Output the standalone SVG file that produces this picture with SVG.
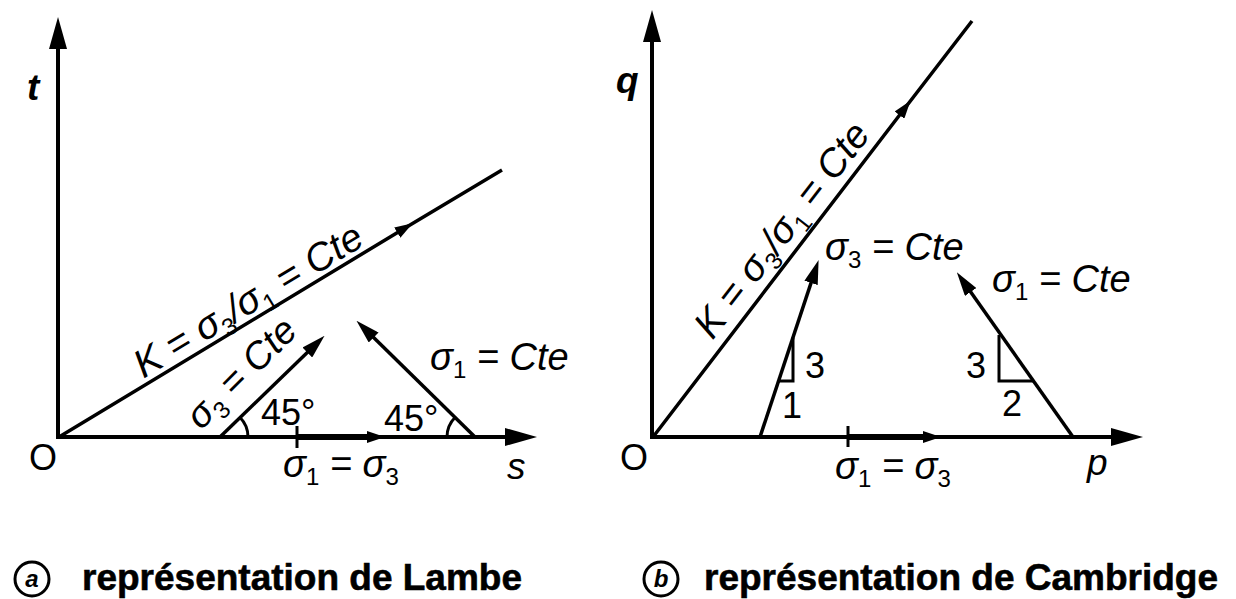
<svg xmlns="http://www.w3.org/2000/svg" width="1236" height="599" viewBox="0 0 1236 599">
<style>
.ax{stroke:#000;stroke-width:4;fill:none}
.ln{stroke:#000;stroke-width:3.5;fill:none}
.thin{stroke:#000;stroke-width:3;fill:none}
.thick{stroke:#000;stroke-width:6;fill:none}
text{font-family:"Liberation Sans",Arial,sans-serif;fill:#000}
.lb{font-size:38px;font-style:italic}
.kl{font-size:39px;font-style:italic}
.num{font-size:36px}
.var{font-size:37px;font-style:italic}
.org{font-size:36px}
.sub{font-size:24px;font-style:normal}
.cap{font-size:37px;font-weight:bold;stroke:#000;stroke-width:0.6}
.circ{stroke:#000;stroke-width:3;fill:none}
.cl{font-size:24px;font-weight:bold;font-style:italic}
</style>
<defs>
<marker id="axh" markerUnits="userSpaceOnUse" viewBox="0 0 32 18" markerWidth="32" markerHeight="18" refX="12" refY="9" orient="auto"><path d="M0,0 L32,9 L0,18 Z"/></marker>
<marker id="sh" markerUnits="userSpaceOnUse" viewBox="0 0 24 14" markerWidth="24" markerHeight="14" refX="10" refY="7" orient="auto"><path d="M0,0 L24,7 L0,14 Z"/></marker>
<marker id="mh" markerUnits="userSpaceOnUse" viewBox="0 0 18 12" markerWidth="18" markerHeight="12" refX="9" refY="6" orient="auto"><path d="M0,0 L18,6 L0,12 Z"/></marker>
</defs>

<g id="connectors">
<!-- panel a -->
<path class="ax" d="M58,439 L58,37" marker-end="url(#axh)"/>
<path class="ax" d="M56,437 L517,437" marker-end="url(#axh)"/>
<path class="ln" d="M59,437 L405,228 L502,170" marker-mid="url(#mh)"/>
<path class="ln" d="M220,437 L314.5,345.5" marker-end="url(#sh)"/>
<path class="ln" d="M475,437 L366.5,330.5" marker-end="url(#sh)"/>
<path class="thin" d="M248,437 A28,28 0 0 0 239.8,417.2"/>
<path class="thin" d="M447,437 A28,28 0 0 1 455.2,417.2"/>
<path class="thin" d="M297,426 L297,448"/>
<path class="thick" d="M297,437 L376,437" marker-end="url(#mh)"/>
<!-- panel b -->
<path class="ax" d="M652,439 L652,30" marker-end="url(#axh)"/>
<path class="ax" d="M650,437 L1123,437" marker-end="url(#axh)"/>
<path class="ln" d="M653,437 L905,108 L972,21" marker-mid="url(#mh)"/>
<path class="ln" d="M760,437 L814.2,273.4" marker-end="url(#sh)"/>
<path class="thin" d="M778.7,381 L793,381 L793,337.4"/>
<path class="ln" d="M1073,437 L964.9,283.8" marker-end="url(#sh)"/>
<path class="thin" d="M1033.5,381 L999,381 L999,334.9"/>
<path class="thin" d="M848,426 L848,447"/>
<path class="thick" d="M848,437 L932,437" marker-end="url(#mh)"/>
</g>

<g id="panel-a-labels">
<text class="var" x="27" y="100" font-weight="bold">t</text>
<text class="org" x="29" y="470">O</text>
<text class="var" x="507" y="479">s</text>
<text class="kl" transform="translate(146,383) rotate(-31.1)" x="0" y="-5">K = σ<tspan class="sub" dy="8">3</tspan><tspan dy="-8">/σ</tspan><tspan class="sub" dy="8">1</tspan><tspan dy="-8"> = Cte</tspan></text>
<text class="lb" font-size="36" transform="translate(201,431) rotate(-45)" x="0" y="0">σ<tspan class="sub" dy="8">3</tspan><tspan dy="-8"> = Cte</tspan></text>
<text class="num" x="261" y="425">45°</text>
<text class="num" x="384" y="431">45°</text>
<text class="lb" x="430" y="370">σ<tspan class="sub" dy="8">1</tspan><tspan dy="-8"> = Cte</tspan></text>
<text class="lb" x="283" y="477">σ<tspan class="sub" dy="8">1</tspan><tspan dy="-8"> = σ</tspan><tspan class="sub" dy="8">3</tspan></text>
</g>

<g id="panel-b-labels">
<text class="var" x="616" y="93" font-weight="bold">q</text>
<text class="org" x="620" y="470">O</text>
<text class="var" x="1087" y="475">p</text>
<text class="kl" transform="translate(722,348) rotate(-52.3)" x="0" y="-12">K = σ<tspan class="sub" dy="8">3</tspan><tspan dy="-8">/σ</tspan><tspan class="sub" dy="8">1</tspan><tspan dy="-8"> = Cte</tspan></text>
<text class="lb" x="825" y="260">σ<tspan class="sub" dy="8">3</tspan><tspan dy="-8"> = Cte</tspan></text>
<text class="lb" x="992" y="292">σ<tspan class="sub" dy="8">1</tspan><tspan dy="-8"> = Cte</tspan></text>
<text class="num" x="805" y="378">3</text>
<text class="num" x="782" y="418">1</text>
<text class="num" x="966" y="378">3</text>
<text class="num" x="1002" y="416">2</text>
<text class="lb" x="835" y="479">σ<tspan class="sub" dy="8">1</tspan><tspan dy="-8"> = σ</tspan><tspan class="sub" dy="8">3</tspan></text>
</g>

<g id="caption-a">
<circle class="circ" cx="32" cy="579" r="17"/>
<text class="cl" x="32" y="587" text-anchor="middle">a</text>
<text class="cap" x="82" y="590">représentation de Lambe</text>
</g>
<g id="caption-b">
<circle class="circ" cx="661" cy="579" r="17"/>
<text class="cl" x="661" y="587" text-anchor="middle">b</text>
<text class="cap" x="704" y="590">représentation de Cambridge</text>
</g>
</svg>
